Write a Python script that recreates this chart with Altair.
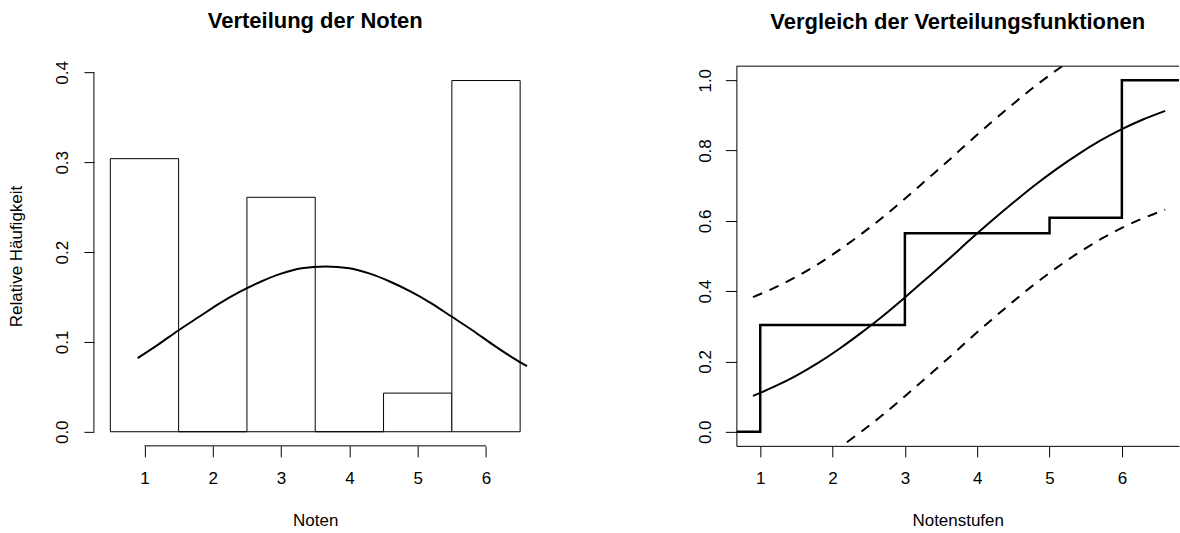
import altair as alt
import pandas as pd

# ---- data ----
notes = [1, 2, 3, 4, 5, 6]
rel_freq = [0.304, 0.0, 0.261, 0.0, 0.043, 0.391]

curve_x = [0.9, 1.2, 1.5, 1.8, 2.1, 2.4, 2.7, 3.0, 3.3, 3.65, 4.0, 4.3, 4.6, 4.9, 5.2, 5.5, 5.8, 6.1, 6.4, 6.6]
density = [0.082, 0.097, 0.113, 0.128, 0.143, 0.156, 0.167, 0.176, 0.182, 0.184, 0.182, 0.176, 0.167, 0.156, 0.143, 0.128, 0.113, 0.097, 0.082, 0.073]

ecdf_x = [0.67, 1, 3, 5, 6, 6.79]
ecdf_y = [0.0, 0.304, 0.565, 0.609, 1.0, 1.0]

cdf_x = [0.9, 1.2, 1.5, 1.8, 2.1, 2.4, 2.7, 3.0, 3.3, 3.6, 3.9, 4.2, 4.5, 4.8, 5.1, 5.4, 5.7, 6.0, 6.3, 6.6]
cdf = [0.102, 0.129, 0.160, 0.196, 0.237, 0.282, 0.330, 0.382, 0.436, 0.490, 0.546, 0.600, 0.652, 0.702, 0.748, 0.790, 0.828, 0.861, 0.889, 0.913]
upper = [0.383, 0.410, 0.441, 0.477, 0.518, 0.563, 0.611, 0.663, 0.717, 0.771, 0.827, 0.881, 0.933, 0.983, 1.029, 1.071, 1.109, 1.142, 1.170, 1.194]
lower = [-0.179, -0.152, -0.121, -0.085, -0.044, 0.001, 0.049, 0.101, 0.155, 0.209, 0.265, 0.319, 0.371, 0.421, 0.467, 0.509, 0.547, 0.580, 0.608, 0.632]

FONT = "Liberation Sans"
FS = 17

# ---- left panel ----
bars_df = pd.DataFrame({
    "left": [n - 0.5 for n in notes],
    "right": [n + 0.5 for n in notes],
    "base": [0.0] * len(notes),
    "h": rel_freq,
})
dens_df = pd.DataFrame({"x": curve_x, "d": density})

xs1 = alt.Scale(domain=[0.26, 6.74], nice=False, zero=False)
ys1 = alt.Scale(domain=[-0.0157, 0.407], nice=False, zero=False)

xaxis1 = alt.Axis(values=notes, format="d", domain=False, grid=False, tickSize=11,
                  labelPadding=14, titlePadding=26, labelFlush=False)
yaxis1 = alt.Axis(values=[0, 0.1, 0.2, 0.3, 0.4], format=".1f", domain=False, grid=False,
                  tickSize=10, labelAngle=270, labelAlign="center", labelBaseline="bottom",
                  labelPadding=12, titlePadding=28, labelFlush=False)

bars = alt.Chart(bars_df).mark_rect(fill="white", stroke="black", strokeWidth=1).encode(
    x=alt.X("left:Q", scale=xs1, axis=xaxis1, title="Noten"),
    x2="right:Q",
    y=alt.Y("base:Q", scale=ys1, axis=yaxis1, title="Relative Häufigkeit"),
    y2="h:Q",
)
dens = alt.Chart(dens_df).mark_line(color="black", strokeWidth=2, interpolate="monotone").encode(
    x=alt.X("x:Q", scale=xs1), y=alt.Y("d:Q", scale=ys1)
)
yline = alt.Chart(pd.DataFrame({"x": [0.26], "y": [0.0], "y2": [0.4]})).mark_rule(color="black", strokeWidth=1).encode(
    x=alt.X("x:Q", scale=xs1), y=alt.Y("y:Q", scale=ys1), y2="y2:Q"
)
xline = alt.Chart(pd.DataFrame({"x": [1], "x2": [6], "y": [-0.0157]})).mark_rule(color="black", strokeWidth=1).encode(
    x=alt.X("x:Q", scale=xs1), x2="x2:Q", y=alt.Y("y:Q", scale=ys1)
)

left = alt.layer(bars, dens, yline, xline).properties(
    width=443, height=380,
    title=alt.TitleParams("Verteilung der Noten", frame="group", offset=28),
)

# ---- right panel ----
ecdf_df = pd.DataFrame({"x": ecdf_x, "y": ecdf_y})
cdf_df = pd.DataFrame({"x": cdf_x, "cdf": cdf, "upper": upper, "lower": lower})

xs2 = alt.Scale(domain=[0.67, 6.79], nice=False, zero=False)
ys2 = alt.Scale(domain=[-0.04, 1.04], nice=False, zero=False)

xaxis2 = alt.Axis(values=notes, format="d", domain=True, grid=False, tickSize=11,
                  labelPadding=14, titlePadding=26, labelFlush=False)
yaxis2 = alt.Axis(values=[0, 0.2, 0.4, 0.6, 0.8, 1.0], format=".1f", domain=True, grid=False,
                  tickSize=11, labelAngle=270, labelAlign="center", labelBaseline="bottom",
                  labelPadding=11, labelFlush=False)

ecdf_line = alt.Chart(ecdf_df).mark_line(color="black", strokeWidth=2.5, interpolate="step-after", clip=True).encode(
    x=alt.X("x:Q", scale=xs2, axis=xaxis2, title="Notenstufen"),
    y=alt.Y("y:Q", scale=ys2, axis=yaxis2, title=None),
)
cdf_line = alt.Chart(cdf_df).mark_line(color="black", strokeWidth=2, interpolate="monotone", clip=True).encode(
    x=alt.X("x:Q", scale=xs2), y=alt.Y("cdf:Q", scale=ys2)
)
up_line = alt.Chart(cdf_df).mark_line(color="black", strokeWidth=2, strokeDash=[10, 8], interpolate="monotone", clip=True).encode(
    x=alt.X("x:Q", scale=xs2), y=alt.Y("upper:Q", scale=ys2)
)
lo_line = alt.Chart(cdf_df).mark_line(color="black", strokeWidth=2, strokeDash=[10, 8], interpolate="monotone", clip=True).encode(
    x=alt.X("x:Q", scale=xs2), y=alt.Y("lower:Q", scale=ys2)
)
top_line = alt.Chart(pd.DataFrame({"y": [1.04]})).mark_rule(color="black", strokeWidth=1).encode(
    y=alt.Y("y:Q", scale=ys2)
)

right = alt.layer(ecdf_line, cdf_line, up_line, lo_line, top_line).properties(
    width=443, height=380,
    title=alt.TitleParams("Vergleich der Verteilungsfunktionen", frame="group", offset=32),
)

chart = alt.hconcat(left, right, spacing=160).properties(
    padding={"left": 8, "top": 9, "right": 0, "bottom": 0}
).configure_view(stroke=None).configure_axis(
    labelFont=FONT, titleFont=FONT, labelFontSize=FS, titleFontSize=FS,
    labelColor="black", titleColor="black", tickColor="black", domainColor="black",
    titleFontWeight="normal", tickWidth=1, domainWidth=1,
).configure_title(
    font=FONT, fontSize=22, fontWeight="bold", color="black", anchor="middle"
)

chart.save("out.html", embed_options={"renderer": "svg", "actions": False})
